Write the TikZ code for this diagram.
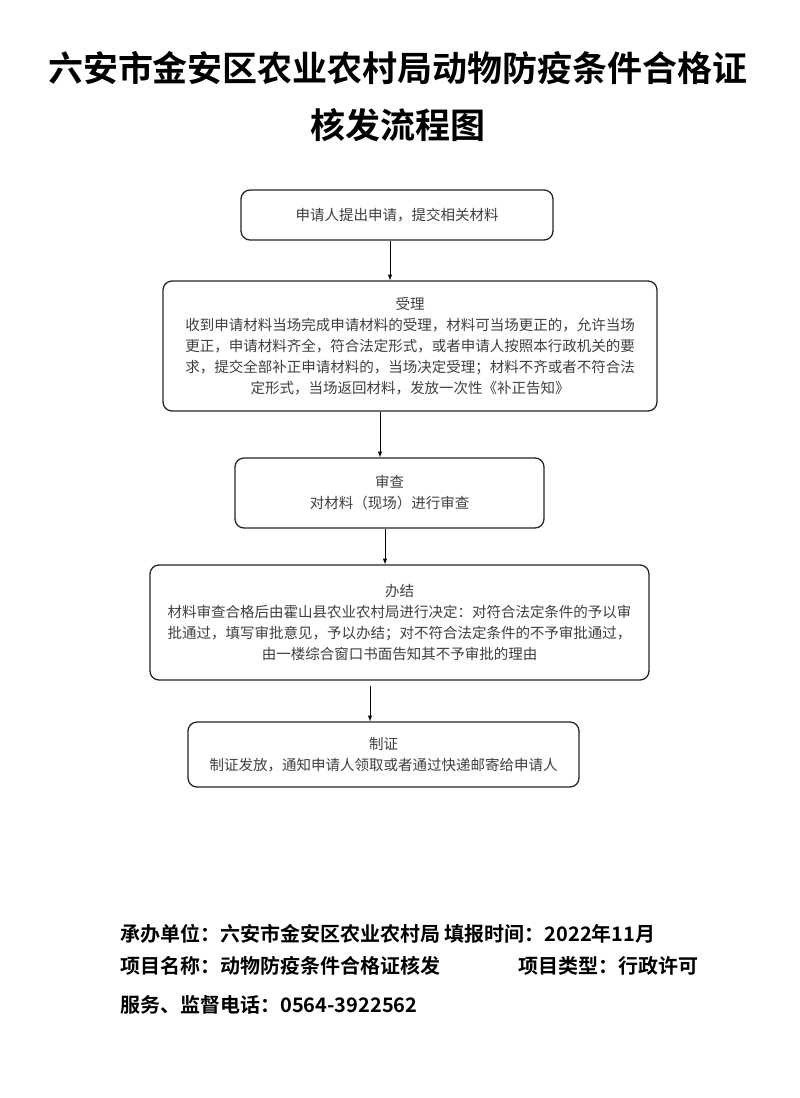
\documentclass[tikz,border=0pt]{standalone}
\usepackage{fontspec}
\newfontfamily\cjk{Noto Sans CJK SC}
\newfontfamily\cjkb{Noto Sans CJK SC Bold}
\begin{document}
\begin{tikzpicture}[x=1pt,y=-1pt,
  box/.style={draw=black!85,line width=1.3pt,rounded corners=9pt,inner sep=0pt,align=center,
    text=black!75,font=\cjk\fontsize{14.5}{21}\selectfont},
  arr/.style={-latex,line width=1pt}]
\useasboundingbox[fill=white] (0,0) rectangle (800,1098);
\node[font=\cjkb\fontsize{35}{40}\selectfont,anchor=center] (t1) at (398,68) {六安市金安区农业农村局动物防疫条件合格证};
\node[font=\cjkb\fontsize{35}{40}\selectfont] (t2) at (398,125) {核发流程图};
\node[box,minimum width=312pt,minimum height=50pt] (b1) at (397,215) {申请人提出申请，提交相关材料};
\node[box,minimum width=494pt,minimum height=130pt] (b2) at (410,346) {受理\\收到申请材料当场完成申请材料的受理，材料可当场更正的，允许当场\\更正，申请材料齐全，符合法定形式，或者申请人按照本行政机关的要\\求，提交全部补正申请材料的，当场决定受理；材料不齐或者不符合法\\定形式，当场返回材料，发放一次性《补正告知》};
\node[box,minimum width=309pt,minimum height=70pt] (b3) at (389.5,493) {审查\\对材料（现场）进行审查};
\node[box,minimum width=499pt,minimum height=115pt] (b4) at (399.5,622.5) {办结\\材料审查合格后由霍山县农业农村局进行决定：对符合法定条件的予以审\\批通过，填写审批意见，予以办结；对不符合法定条件的不予审批通过，\\由一楼综合窗口书面告知其不予审批的理由};
\node[box,minimum width=391pt,minimum height=65pt] (b5) at (383.5,754.5) {制证\\制证发放，通知申请人领取或者通过快递邮寄给申请人};
\draw[arr] (b1.south -| 390,0) -- (b2.north -| 390,0);
\draw[arr] (b2.south -| 380,0) -- (b3.north -| 380,0);
\draw[arr] (b3.south -| 385,0) -- (b4.north -| 385,0);
\coordinate (s4) at (370,686);
\draw[arr] (s4) -- (b5.north -| 370,0);
\begin{scope}[every node/.style={anchor=west,font=\cjkb\fontsize{20}{22}\selectfont,inner sep=0pt}]
\node (f1) at (120,934) {承办单位：六安市金安区农业农村局 填报时间：2022年11月};
\node (f2) at (120,966) {项目名称：动物防疫条件合格证核发};
\node (f3) at (518,966) {项目类型：行政许可};
\node (f4) at (120,1005) {服务、监督电话：0564-3922562};
\end{scope}
\end{tikzpicture}
\end{document}
